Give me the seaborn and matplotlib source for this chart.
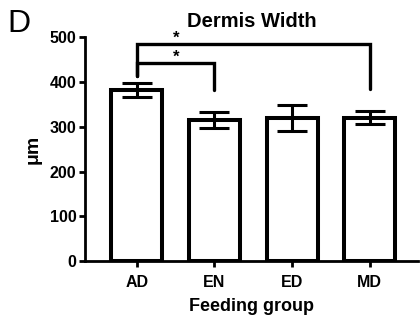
import matplotlib
matplotlib.use("Agg")
import matplotlib.pyplot as plt
import seaborn as sns
import pandas as pd

groups = ["AD", "EN", "ED", "MD"]
means = [382, 315, 319, 320]
errs = [15, 17, 29, 14]
yticks = [0, 100, 200, 300, 400, 500]

sns.set_theme(style="ticks")
plt.rcParams['font.family'] = ['Liberation Sans', 'DejaVu Sans']
plt.rcParams['font.weight'] = 'bold'
plt.rcParams['text.color'] = 'black'
plt.rcParams['axes.labelcolor'] = 'black'
plt.rcParams['xtick.color'] = 'black'
plt.rcParams['ytick.color'] = 'black'

df = pd.DataFrame({"group": groups, "mean": means, "err": errs})

fig = plt.figure(figsize=(4.2, 3.2), dpi=100)
ax = fig.add_axes([0.202, 0.184, 0.793, 0.7])

sns.barplot(data=df, x="group", y="mean", ax=ax, color="white", edgecolor="black",
            linewidth=2.9, width=0.66, errorbar=None, zorder=2)
ax.errorbar(range(len(groups)), df["mean"], yerr=df["err"], fmt="none", ecolor="black",
            elinewidth=2.2, capsize=11, capthick=2.2, zorder=3)

ax.set_ylim(0, 500)
ax.set_xlim(-0.67, 3.62)
ax.set_yticks(yticks)
ax.set_yticklabels([str(t) for t in yticks])
for s in ["top", "right"]:
    ax.spines[s].set_visible(False)
for s in ["left", "bottom"]:
    ax.spines[s].set_linewidth(2.0)
    ax.spines[s].set_color("black")
ax.tick_params(axis="both", which="major", width=2.0, length=4, color="black",
               labelsize=11.5, labelcolor="black", pad=2)
ax.tick_params(axis="x", pad=6)
for lab in ax.get_xticklabels() + ax.get_yticklabels():
    lab.set_fontweight("bold")

ax.set_xlabel("Feeding group", fontsize=13, fontweight="bold", labelpad=6, color="black")
ax.set_ylabel("μm", fontsize=14, fontweight="bold", labelpad=6, color="black")
ax.set_title("Dermis Width", fontsize=14.5, fontweight="bold", pad=7, color="black")

# significance brackets
lw = 2.4
ax.plot([0, 0, 3, 3], [413, 484, 484, 384], color="black", lw=lw, clip_on=False, solid_joinstyle="miter")
ax.plot([0, 0, 1, 1], [413, 443, 443, 383], color="black", lw=lw, clip_on=False, solid_joinstyle="miter")
ax.text(0.5, 497, "*", ha="center", va="center", fontsize=12, fontweight="bold")
ax.text(0.5, 455, "*", ha="center", va="center", fontsize=12, fontweight="bold")

fig.text(0.018, 0.925, "D", fontsize=23, fontweight="normal", ha="left", va="center")

fig.savefig("out.png", dpi=100)
